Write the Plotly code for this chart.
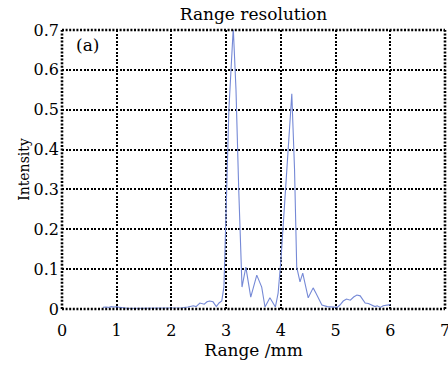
import plotly.graph_objects as go

range_mm = [0.75, 0.8, 0.85, 0.9, 0.95, 1.0, 1.05, 1.1, 1.2, 1.4, 1.6, 1.8, 2.0, 2.2, 2.3, 2.4, 2.45,
            2.52, 2.6, 2.65, 2.7, 2.76, 2.82, 2.87, 2.92, 2.96, 3.0, 3.05, 3.13, 3.18, 3.23, 3.29,
            3.36, 3.45, 3.56, 3.65, 3.71, 3.8, 3.9, 3.95, 4.0, 4.04, 4.09, 4.14, 4.2, 4.25, 4.29,
            4.35, 4.4, 4.5, 4.59, 4.64, 4.75, 4.85, 4.95, 5.03, 5.08, 5.14, 5.2, 5.27, 5.33, 5.39,
            5.45, 5.5, 5.54, 5.6, 5.66, 5.72, 5.76, 5.82, 5.87, 5.92, 6.0]
intensity = [0.004, 0.005, 0.004, 0.006, 0.005, 0.006, 0.004, 0.003, 0.002, 0.002, 0.002, 0.002, 0.002, 0.003, 0.005, 0.008, 0.006,
             0.015, 0.012, 0.018, 0.02, 0.018, 0.006, 0.015, 0.02, 0.056, 0.25, 0.5, 0.705, 0.55, 0.3, 0.055,
             0.105, 0.03, 0.085, 0.055, 0.005, 0.028, 0.005, 0.04, 0.12, 0.2, 0.32, 0.41, 0.54, 0.35, 0.105,
             0.068, 0.09, 0.028, 0.053, 0.04, 0.01, 0.006, 0.005, 0.004, 0.01, 0.02, 0.025, 0.022, 0.03, 0.035,
             0.033, 0.022, 0.015, 0.014, 0.01, 0.006, 0.008, 0.004, 0.008, 0.009, 0.011]

x_ticks = [0, 1, 2, 3, 4, 5, 6, 7]
y_ticks = [0, 0.1, 0.2, 0.3, 0.4, 0.5, 0.6, 0.7]
y_labels = ["0", "0.1", "0.2", "0.3", "0.4", "0.5", "0.6", "0.7"]

FONT = "DejaVu Serif"
DASH = "2px,1.6px"

fig = go.Figure()
fig.add_trace(go.Scatter(x=range_mm, y=intensity, mode="lines",
                         line=dict(color="#7589d6", width=1.1), showlegend=False))

fig.update_layout(
    width=448, height=366,
    margin=dict(l=62, r=3, t=30, b=57, autoexpand=False),
    plot_bgcolor="white", paper_bgcolor="white",
    title=dict(text="Range resolution", x=0.5, xanchor="center", xref="paper",
               y=1 - 14 / 366, yref="container", yanchor="middle",
               font=dict(family=FONT, size=17, color="black")),
    font=dict(family=FONT, color="black"),
)
fig.update_xaxes(range=[0, 7], tickvals=x_ticks, ticktext=[str(v) for v in x_ticks],
                 showgrid=True, gridcolor="black", gridwidth=2.4, griddash=DASH,
                 zeroline=False, showline=False, ticks="", automargin=False,
                 ticklabelstandoff=10, ticklabeloverflow="allow",
                 tickfont=dict(family=FONT, size=16),
                 title=dict(text="Range /mm", font=dict(family=FONT, size=17), standoff=0))
fig.update_yaxes(range=[0, 0.7], tickvals=y_ticks, ticktext=y_labels,
                 showgrid=True, gridcolor="black", gridwidth=2.4, griddash=DASH,
                 zeroline=False, showline=False, ticks="", automargin=False,
                 ticklabelstandoff=2, ticklabeloverflow="allow",
                 tickfont=dict(family=FONT, size=16),
                 title=dict(text="Intensity", font=dict(family=FONT, size=14), standoff=0))

for (x0, y0, x1, y1) in [(0, 0, 1, 0), (0, 1, 1, 1), (0, 0, 0, 1), (1, 0, 1, 1)]:
    fig.add_shape(type="line", xref="paper", yref="paper", x0=x0, y0=y0, x1=x1, y1=y1,
                  line=dict(color="black", width=2.6, dash=DASH))

fig.add_annotation(text="(a)", x=0.032, y=0.945, xref="paper", yref="paper",
                   xanchor="left", yanchor="middle", showarrow=False,
                   font=dict(family=FONT, size=17, color="black"))

fig.write_html("out.html", config={"displayModeBar": False},
               post_script="document.body.style.margin='0';")
